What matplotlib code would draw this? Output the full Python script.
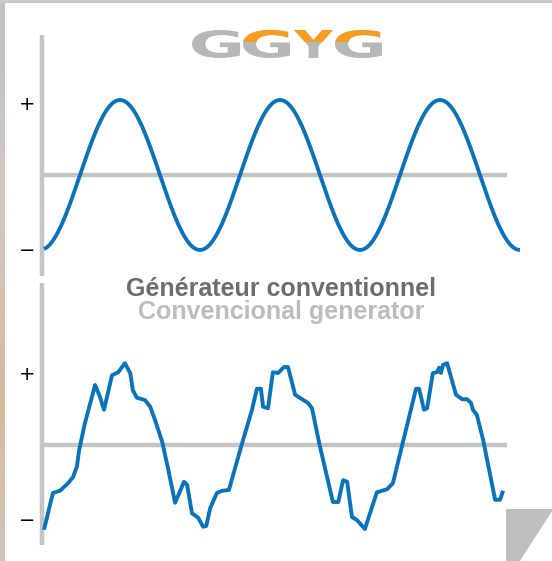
import numpy as np
import matplotlib
matplotlib.use("Agg")
import matplotlib.pyplot as plt
from matplotlib.patches import PathPatch, Rectangle, Polygon
from matplotlib.path import Path
from matplotlib.textpath import TextPath
from matplotlib.font_manager import FontProperties

# --- data -------------------------------------------------------------
# phase in degrees (one cycle = 360), amplitude in units of the nominal peak
sine_start, sine_end = 9, 1080
sine_amplitude = 1.0

distorted_phase = [9, 29, 45, 63, 74, 83, 88, 101, 124, 135, 144, 162, 176, 191,
                   203, 209, 218, 236, 248, 259, 275, 288, 304, 324, 331, 342,
                   356, 367, 374, 383, 398, 410, 425, 457, 477, 488, 497, 502,
                   513, 524, 536, 549, 558, 574, 603, 612, 628, 659, 671, 682,
                   691, 702, 713, 731, 758, 781, 794, 815, 846, 853, 864, 871,
                   884, 893, 898, 902, 907, 916, 936, 950, 961, 970, 974, 983,
                   997, 1024, 1035, 1042]
distorted_value = [-1.13, -0.64, -0.61, -0.51, -0.43, -0.29, -0.07, 0.29, 0.80,
                   0.64, 0.47, 0.93, 0.97, 1.09, 0.96, 0.73, 0.63, 0.60, 0.51,
                   0.33, 0.04, -0.31, -0.77, -0.49, -0.53, -0.91, -0.97, -1.09,
                   -1.08, -0.84, -0.64, -0.61, -0.60, 0.07, 0.47, 0.75, 0.75,
                   0.51, 0.49, 0.97, 0.96, 1.04, 1.04, 0.67, 0.56, 0.49, 0.03,
                   -0.76, -0.76, -0.47, -0.49, -0.96, -1.00, -1.12, -0.63, -0.59,
                   -0.51, 0.00, 0.75, 0.75, 0.47, 0.49, 0.96, 0.97, 1.03, 0.96,
                   1.07, 1.09, 0.67, 0.61, 0.61, 0.56, 0.47, 0.40, 0.07, -0.73,
                   -0.73, -0.61]

tick_values = [0.96, -0.98]
tick_labels = ["+", "\u2212"]
title_fr = "Générateur conventionnel"
title_es = "Convencional generator"
logo_letters = ["G", "G", "Y", "G"]

# --- layout -----------------------------------------------------------
W, H = 552, 561
BLUE = "#0a73b8"
AXIS_GREY = "#c4c4c4"
LOGO_GREY = "#b6b7b9"
LOGO_ORANGE = "#f59d1e"

fig = plt.figure(figsize=(W / 100, H / 100), dpi=100)

# background / decoration layer in pixel units
bg = fig.add_axes([0, 0, 1, 1], zorder=0)
bg.set_xlim(0, W)
bg.set_ylim(H, 0)
bg.axis("off")

strip = np.array([[0.76, 0.76, 0.76], [0.80, 0.79, 0.78], [0.84, 0.78, 0.75],
                  [0.84, 0.74, 0.68], [0.86, 0.72, 0.60], [0.82, 0.77, 0.73]])
bg.imshow(strip[:, None, :], extent=[0, 5, H, 0], aspect="auto",
          interpolation="bicubic")
bg.add_patch(Rectangle((0, 0), W, 3, color="#c8c8c8", lw=0))
bg.add_patch(Polygon([(506, 509), (552, 509), (552, 511), (520, H), (506, H)],
                     closed=True, color="#bdbec0", lw=0))

# logo: stretched bold letters, orange on the upper part of the last three
fp = FontProperties(family="DejaVu Sans", weight="bold")
boxes = [(192, 240), (243, 290), (294, 333), (335, 382)]
clip = Rectangle((0, 0), W, 42, transform=bg.transData)
for i, (ch, (x0, x1)) in enumerate(zip(logo_letters, boxes)):
    tp = TextPath((0, 0), ch, size=100, prop=fp)
    ext = tp.get_extents()
    v = tp.vertices.copy()
    v[:, 0] = x0 + (v[:, 0] - ext.x0) * (x1 - x0) / ext.width
    v[:, 1] = 58 - (v[:, 1] - ext.y0) * 28 / ext.height
    path = Path(v, tp.codes)
    bg.add_patch(PathPatch(path, color=LOGO_GREY, lw=0))
    if i > 0:
        p = PathPatch(path, color=LOGO_ORANGE, lw=0)
        bg.add_patch(p)
        p.set_clip_path(clip)

bg.text(281, 296, title_fr, ha="center", va="baseline", fontsize=18,
        fontweight="bold", color="#6d6d6d", family="Liberation Sans")
bg.text(281, 319, title_es, ha="center", va="baseline", fontsize=18,
        fontweight="bold", color="#bcbcbc", family="Liberation Sans")

DEG_PER_PX = 2.25
PX_PER_UNIT = 75.0
X0_PX = 40


def panel(top_px, bottom_px, centre_px, axis_top_px, axis_bottom_px):
    ax = fig.add_axes([0, 1 - bottom_px / H, 1, (bottom_px - top_px) / H],
                      zorder=1)
    ax.patch.set_alpha(0)
    ax.set_xlim(-X0_PX * DEG_PER_PX, (W - X0_PX) * DEG_PER_PX)
    ax.set_ylim((centre_px - bottom_px) / PX_PER_UNIT,
                (centre_px - top_px) / PX_PER_UNIT)
    x_axis = (42 - X0_PX) * DEG_PER_PX
    for s in ["top", "right"]:
        ax.spines[s].set_visible(False)
    ax.spines["left"].set_position(("data", x_axis))
    ax.spines["left"].set_bounds((centre_px - axis_bottom_px) / PX_PER_UNIT,
                                 (centre_px - axis_top_px) / PX_PER_UNIT)
    ax.spines["bottom"].set_position(("data", 0))
    ax.spines["bottom"].set_bounds(x_axis, (507 - X0_PX) * DEG_PER_PX)
    for s in ["left", "bottom"]:
        ax.spines[s].set_color(AXIS_GREY)
        ax.spines[s].set_linewidth(3.2)
        ax.spines[s].set_capstyle("butt")
    ax.set_xticks([])
    ax.set_yticks(tick_values)
    ax.set_yticklabels(tick_labels)
    ax.tick_params(axis="y", length=0, pad=5, labelsize=14, labelcolor="black")
    return ax


ax1 = panel(0, 280, 175, 35, 276)
phase = np.linspace(sine_start, sine_end, 600)
ax1.plot(phase, -sine_amplitude * np.cos(np.radians(phase)), color=BLUE,
         lw=2.8, zorder=3, clip_on=False, solid_capstyle="butt")

ax2 = panel(280, H, 445, 283, 545)
ax2.plot(distorted_phase, distorted_value, color=BLUE, lw=2.8, zorder=3,
         clip_on=False, solid_joinstyle="round", solid_capstyle="butt")

fig.savefig("out.png", dpi=100)
